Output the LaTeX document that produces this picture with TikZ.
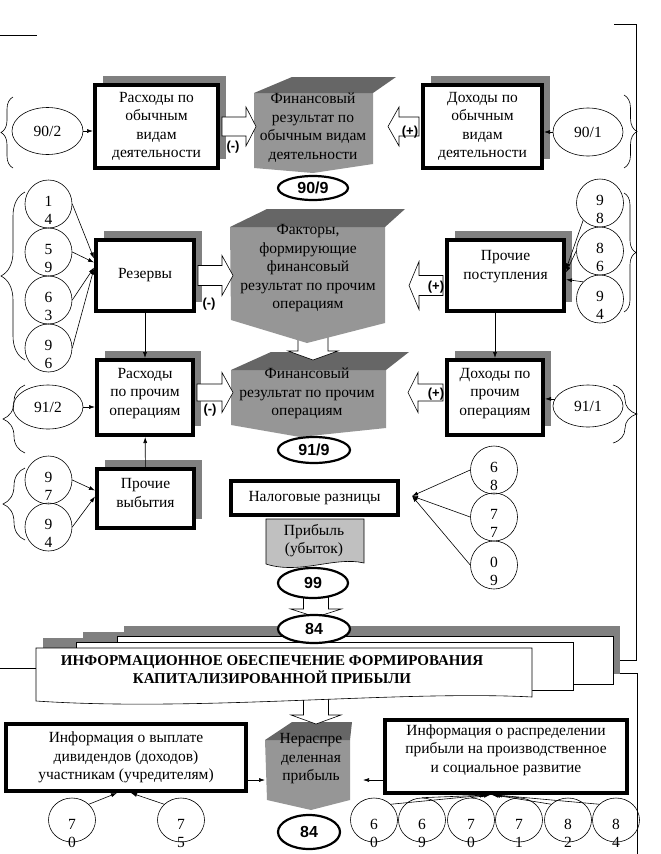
\documentclass[tikz,border=0pt]{standalone}
\usepackage{fontspec}
\setmainfont{Liberation Serif}
\newfontfamily\sansbold{Liberation Sans}
\usetikzlibrary{shapes.geometric,arrows.meta,decorations.pathreplacing,shadows}

\definecolor{shadegray}{RGB}{128,128,128}
\definecolor{facegray}{RGB}{150,150,150}
\definecolor{topgray}{RGB}{102,102,102}
\definecolor{profitgray}{RGB}{192,192,192}

\newcommand{\txtfont}{\fontsize{15.5}{18.5}\selectfont}
\newcommand{\digfont}{\fontsize{15.5}{18}\selectfont}
\newcommand{\totfont}{\sansbold\fontsize{16}{16}\selectfont\bfseries}
\newcommand{\capfont}{\fontsize{15}{18}\selectfont\bfseries}

% block arrow: #1 placement, #2 length, #3 head length, #4 half shaft, #5 half head
\newcommand{\blockarrow}[5]{%
  \draw[blkline, #1] (0,-#4) -- ({#2-#3},-#4) -- ({#2-#3},-#5) -- (#2,0)
    -- ({#2-#3},#5) -- ({#2-#3},#4) -- (0,#4) -- cycle;}

\tikzset{
  box/.style={draw, line width=4pt, fill=white, align=center, font=\txtfont, inner sep=0pt},
  shbox/.style={box, drop shadow={shadow xshift=8pt, shadow yshift=9pt, fill=shadegray, opacity=1}},
  acct/.style={draw, ellipse, line width=0.6pt, fill=white, inner sep=0pt, font=\txtfont},
  total/.style={draw, ellipse, line width=2.2pt, fill=white, inner sep=0pt, font=\totfont},
  numc/.style={draw, ellipse, line width=0.6pt, inner sep=0pt, minimum width=47pt, minimum height=48pt,
    label={[font=\digfont, align=center, yshift=-6pt]center:{#1}}},
  numb/.style={draw, ellipse, line width=0.6pt, inner sep=0pt, minimum width=47pt, minimum height=44pt,
    label={[font=\digfont, align=center, yshift=-13pt]center:{#1}}},
  blkline/.style={draw, fill=white, line width=0.6pt},
  sign/.style={font=\sansbold\bfseries\fontsize{13}{13}\selectfont, inner sep=0pt},
  arr/.style={line width=0.6pt, -{Latex[length=6pt,width=4pt]}},
  brc/.style={decorate, decoration={brace, amplitude=#1}, line width=0.6pt},
}

\begin{document}
\begin{tikzpicture}[x=1pt, y=-1pt]
  \useasboundingbox (0,0) rectangle (661,854);

  % frame lines
  \draw[line width=0.6pt] (0,35) -- (37,35);
  \draw[line width=0.6pt] (614,24) -- (636,24) -- (636,660) -- (613,660);
  \draw[line width=0.6pt] (613,673) -- (637,673) -- (637,854);
  \draw[line width=0.6pt] (0,668) -- (36,668);

  % gray blocks
  \fill[facegray] (254,93) -- (373,93) -- (373,164) -- (313,173) -- (254,168) -- cycle;
  \fill[topgray] (254,93) -- (292,77) -- (396,77) -- (373,93) -- cycle;
  \fill[facegray] (231,370) -- (386,370) -- (386,428) -- (300,437) -- (231,425) -- cycle;
  \fill[topgray] (231,370) -- (271,352) -- (409,352) -- (386,370) -- cycle;
  \blockarrow{shift={(313,333)}, rotate=-90}{27}{9}{15}{25}
  \fill[facegray] (230,227) -- (385,227) -- (385,323) -- (307,343) -- (231,320) -- cycle;
  \fill[topgray] (230,227) -- (267,209) -- (405,209) -- (385,227) -- cycle;

  \node[font=\txtfont, align=center] (fin1) at (313,127.5)
    {Финансовый\\результат по\\обычным видам\\деятельности};
  \node[font=\txtfont, align=center] (fact) at (308,268.5)
    {Факторы,\\формирующие\\финансовый\\результат по прочим\\операциям};
  \node[font=\txtfont, align=center] (fin2) at (307,393.5)
    {Финансовый\\результат по прочим\\операциям};

  % boxes
  \node[shbox, minimum width=123pt, minimum height=83pt] (rashod1) at (156.5,126.5)
    {Расходы по\\обычным\\видам\\деятельности};
  \node[shbox, minimum width=119pt, minimum height=83pt] (dohod1) at (482.5,126.5)
    {Доходы по\\обычным\\видам\\деятельности};
  \node[shbox, minimum width=98pt, minimum height=71pt] (rezerv) at (145,275.5) {Резервы};
  \node[shbox, minimum width=117pt, minimum height=71pt] (prochpost) at (505.5,275.5)
    {Прочие\\поступления\\[3pt]\mbox{}};
  \node[shbox, minimum width=96pt, minimum height=75pt] (rashod2) at (145,397.5)
    {Расходы\\по прочим\\операциям\\[-7pt]\mbox{}};
  \node[shbox, minimum width=96pt, minimum height=75pt] (dohod2) at (495,397.5)
    {Доходы по\\прочим\\операциям\\[-7pt]\mbox{}};
  \node[shbox, minimum width=97pt, minimum height=59pt] (vybyt) at (145.5,498.5)
    {Прочие\\выбытия\\[-7.5pt]\mbox{}};

  % block arrows
  \blockarrow{shift={([xshift=2pt]rashod1.east)}}{34}{10}{9.5}{19.5}
  \blockarrow{shift={([xshift=-2pt]dohod1.west)}, xscale=-1}{31}{11}{9.5}{19.5}
  \blockarrow{shift={([xshift=2pt]rezerv.east)}}{35}{11}{10}{20}
  \blockarrow{shift={([xshift=-2pt,yshift=-10pt]prochpost.west)}, xscale=-1}{34}{10}{10}{24}
  \blockarrow{shift={([xshift=2pt,yshift=5pt]rashod2.east)}}{36}{11}{8.5}{20}
  \blockarrow{shift={([xshift=-2pt,yshift=5pt]dohod2.west)}, xscale=-1}{35}{10}{8.5}{20}
  \node[sign] (m1) at (233,147) {(-)};
  \node[sign] (p1) at (410,132) {(+)};
  \node[sign] (m2) at (209,304) {(-)};
  \node[sign] (p2) at (436,287) {(+)};
  \node[sign] (m3) at (210,410) {(-)};
  \node[sign] (p3) at (436,394) {(+)};

  % accounts
  \node[acct, minimum width=71pt, minimum height=47pt] (e902) at (47.5,131) {90/2};
  \node[acct, minimum width=70pt, minimum height=48pt] (e901) at (588,132) {90/1};
  \node[acct, minimum width=70pt, minimum height=44pt] (e912) at (48,407) {91/2};
  \node[acct, minimum width=70pt, minimum height=42pt] (e911) at (588,406) {91/1};
  \node[total, minimum width=70pt, minimum height=24pt] (t909) at (313,188) {90/9};
  \node[total, minimum width=72pt, minimum height=26pt] (t919) at (314,450) {91/9};

  \node[numc={1\\4}] (c14) at (48.5,204) {};
  \node[numc={5\\9}] (c59) at (48.5,252) {};
  \node[numc={6\\3}] (c63) at (48.5,300) {};
  \node[numc={9\\6}] (c96) at (48.5,348) {};
  \node[numc={9\\8}] (c98) at (600,203) {};
  \node[numc={8\\6}] (c86) at (600,251) {};
  \node[numc={9\\4}] (c94) at (600,299) {};
  \node[numc={9\\7}] (c97) at (48.5,480) {};
  \node[numc={9\\4}] (c94b) at (48.5,527) {};
  \node[numc={6\\8}] (c68) at (494,470) {};
  \node[numc={7\\7}] (c77) at (494,517) {};
  \node[numc={0\\9}] (c09) at (494,565) {};

  % braces
  \draw[brc=12pt] (13,168) -- (13,97);
  \draw[brc=24pt] (25,360) -- (25,192);
  \draw[brc=22pt] (25,453) -- (25,385);
  \draw[brc=22pt] (25,540) -- (25,468);
  \draw[brc=13pt] (624,95) -- (624,168);
  \draw[brc=12pt] (624,193) -- (624,312);
  \draw[brc=24pt] (613,385) -- (613,443);

  % connectors
  \draw[arr] (e902) -- (e902 -| rashod1.west);
  \draw[arr] (e901) -- (e901 -| dohod1.east);
  \draw[arr] (c14.east) -- ([yshift=17pt]rezerv.west);
  \draw[arr] (c59.east) -- ([yshift=13pt]rezerv.west);
  \draw[arr] (c63.east) -- ([yshift=8pt]rezerv.west);
  \draw[arr] (c96.east) -- ([yshift=7pt]rezerv.west);
  \draw[arr] (c98.south west) -- ([yshift=6pt]prochpost.east);
  \draw[arr] (c86.west) -- ([yshift=3pt]prochpost.east);
  \draw[arr] (c94.north west) -- ([yshift=-4pt]prochpost.east);
  \draw[arr] (rezerv) -- (rashod2);
  \draw[arr] (vybyt) -- (rashod2);
  \draw[arr] (dohod2.north |- prochpost.south) -- (dohod2.north);
  \draw[arr] (e912) -- (e912 -| rashod2.west);
  \draw[arr] (e911.168) -- (e911.168 -| dohod2.east);
  \draw[arr] (c97.east) -- ([yshift=8pt]vybyt.west);
  \draw[arr] (c94b.east) -- ([yshift=2pt]vybyt.west);

  % tax and profit
  \node[box, minimum width=167pt, minimum height=34pt] (nalog) at (314.5,498) {Налоговые разницы};
  \draw[fill=profitgray, line width=0.6pt] (266,519) -- (364,519) -- (364,563)
    .. controls (335,556) and (300,575) .. (266,564) -- cycle;
  \node[font=\txtfont, align=center] (profit) at (314,540.5) {Прибыль\\(убыток)};
  \coordinate (taxin) at ([xshift=12pt,yshift=2pt]nalog.east);
  \draw[arr] (c68.west) -- (taxin);
  \draw[arr] (c77.west) -- (taxin);
  \draw[arr] (c09.west) -- (taxin);
  \blockarrow{shift={(316,596)}, rotate=-90}{21}{8}{12.5}{25.5}
  \node[total, minimum width=70pt, minimum height=30pt] (t99) at (313,583) {99};

  % bottom part
  \fill[facegray] (265,740) -- (350,740) -- (350,800) -- (311,810) -- (267,800) -- cycle;
  \fill[topgray] (265,740) -- (292,722) -- (352,722) -- (350,740) -- cycle;
  \node[font=\txtfont, align=center] (neraspr) at (311,759) {Нераспре\\деленная\\прибыль};
  \blockarrow{shift={(316,693)}, rotate=-90}{31}{9}{12.5}{25}

  % information block
  \fill[shadegray] (43,638) rectangle (539,690);
  \fill[shadegray] (83,632) rectangle (580,680);
  \fill[shadegray] (124,626) rectangle (620,674);
  \draw[fill=white, line width=0.6pt] (117,636) rectangle (613,684);
  \draw[fill=white, line width=0.6pt] (76,642) rectangle (573,690);
  \draw[fill=white, line width=0.6pt] (36,648) -- (532,648) -- (532,697)
    .. controls (400,690) and (200,712) .. (36,701) -- cycle;
  \node[font=\capfont, align=center] (infot) at (272,670)
    {ИНФОРМАЦИОННОЕ ОБЕСПЕЧЕНИЕ ФОРМИРОВАНИЯ\\КАПИТАЛИЗИРОВАННОЙ ПРИБЫЛИ};
  \node[total, minimum width=72pt, minimum height=28pt] (t84a) at (314,629) {84};

  \node[box, minimum width=240pt, minimum height=67pt] (infodiv) at (126,757.5)
    {Информация о выплате\\дивидендов (доходов)\\участникам (учредителям)};
  \node[box, minimum width=242pt, minimum height=73pt] (inforaspr) at (506,756.5)
    {Информация о распределении\\прибыли на производственное\\и социальное развитие\\[-2pt]\mbox{}};
  \node[total, minimum width=62pt, minimum height=34pt] (t84b) at (309,832) {84};

  \node[numb={7\\0}] (b70) at (72,820) {};
  \node[numb={7\\5}] (b75) at (181,820) {};
  \node[numb={6\\0}] (b60) at (374,820) {};
  \node[numb={6\\9}] (b69) at (422,820) {};
  \node[numb={7\\0}] (b70r) at (471,820) {};
  \node[numb={7\\1}] (b71) at (519,820) {};
  \node[numb={8\\2}] (b82) at (568,820) {};
  \node[numb={8\\4}] (b84) at (616,820) {};

  \coordinate (nerL) at (265,780);
  \coordinate (nerR) at (363,780);
  \draw[arr] (infodiv.east |- nerL) -- (nerL);
  \draw[arr] (inforaspr.west |- nerR) -- (nerR);
  \draw[arr] (b70.north east) -- ([xshift=-9pt]infodiv.south);
  \draw[arr] (b75.north west) -- ([xshift=5pt]infodiv.south);
  \draw[arr] (b60.north east) -- ([xshift=-20pt]inforaspr.south);
  \draw[arr] (b69.north) -- ([xshift=-18pt]inforaspr.south);
  \draw[arr] (b70r.north) -- ([xshift=-16pt]inforaspr.south);
  \draw[arr] (b71.north) -- ([xshift=-14pt]inforaspr.south);
  \draw[arr] (b82.north west) -- ([xshift=-12pt]inforaspr.south);
  \draw[arr] (b84.north west) -- ([xshift=-10pt]inforaspr.south);
\end{tikzpicture}
\end{document}
